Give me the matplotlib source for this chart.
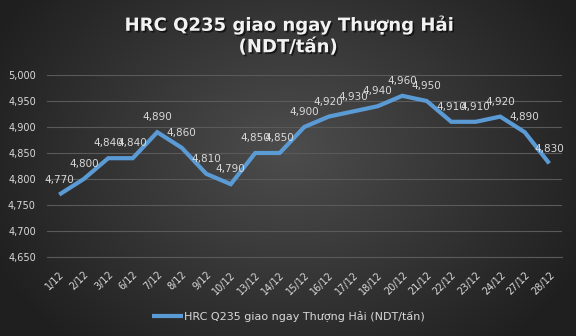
import numpy as np
import matplotlib
matplotlib.use("Agg")
import matplotlib.pyplot as plt
import matplotlib.patheffects as pe
from matplotlib.ticker import FuncFormatter, MultipleLocator
import matplotlib.transforms as mtransforms

dates = ["1/12", "2/12", "3/12", "6/12", "7/12", "8/12", "9/12", "10/12", "13/12", "14/12",
         "15/12", "16/12", "17/12", "18/12", "20/12", "21/12", "22/12", "23/12", "24/12", "27/12", "28/12"]
prices = [4770, 4800, 4840, 4840, 4890, 4860, 4810, 4790, 4850, 4850,
          4900, 4920, 4930, 4940, 4960, 4950, 4910, 4910, 4920, 4890, 4830]
series_name = "HRC Q235 giao ngay Thượng Hải (NDT/tấn)"
title = "HRC Q235 giao ngay Thượng Hải\n(NDT/tấn)"

fig = plt.figure(figsize=(5.76, 3.36), dpi=100)

# radial gradient background
bg = fig.add_axes([0, 0, 1, 1], zorder=0)
yy, xx = np.mgrid[0:336, 0:576]
r = np.sqrt(((xx - 288) / 330.0) ** 2 + ((yy - 150) / 260.0) ** 2)
r = np.clip(r, 0, 1)
c0 = np.array([0x4d, 0x4d, 0x4d]) / 255.0
c1 = np.array([0x1f, 0x1f, 0x1f]) / 255.0
img = c0[None, None, :] * (1 - r[..., None]) + c1[None, None, :] * r[..., None]
bg.imshow(img, aspect="auto", extent=[0, 1, 0, 1])
bg.axis("off")

ax = fig.add_axes([47 / 576, 1 - 257 / 336, (561.5 - 47) / 576, (257 - 75) / 336], zorder=1)
ax.patch.set_alpha(0)

x = np.arange(len(dates))
ax.plot(x, prices, color="#5b9bd5", lw=3, solid_capstyle="butt", solid_joinstyle="miter",
        label=series_name, zorder=3)
for xi, v in zip(x, prices):
    ax.annotate(f"{v:,}", (xi, v), xytext=(0, 7), textcoords="offset points",
                ha="center", va="bottom", color="#d9d9d9", fontsize=7.5, zorder=4)

ax.set_xlim(-0.5, len(dates) - 0.5)
ax.set_ylim(4650, 5000)
ax.yaxis.set_major_locator(MultipleLocator(50))
ax.yaxis.set_major_formatter(FuncFormatter(lambda v, p: f"{int(v):,}"))
ax.set_xticks(x)
ax.set_xticklabels(dates, rotation=45, ha="right", rotation_mode="anchor")
offset = mtransforms.ScaledTranslation(4 / 72, 0, fig.dpi_scale_trans)
for lbl in ax.get_xticklabels():
    lbl.set_transform(lbl.get_transform() + offset)
ax.tick_params(axis="both", length=0, colors="#d9d9d9", labelsize=7)
ax.tick_params(axis="x", pad=9)
ax.tick_params(axis="y", pad=8)
ax.grid(axis="y", color="#5a5a5a", lw=0.8)
ax.set_axisbelow(True)
for s in ["top", "right", "left"]:
    ax.spines[s].set_visible(False)
ax.spines["bottom"].set_color("#5a5a5a")
ax.spines["bottom"].set_linewidth(0.8)

fig.text(0.5, 1 - 36 / 336, title, ha="center", va="center", fontsize=13, fontweight="bold",
         color="#f2f2f2", linespacing=1.25,
         path_effects=[pe.withSimplePatchShadow(offset=(1.2, -1.2), shadow_rgbFace="black", alpha=0.6)])

leg = fig.legend(loc="center", bbox_to_anchor=(0.5, 1 - 316 / 336), frameon=False,
                 fontsize=8, handlelength=2.8, handletextpad=0.1)
for t in leg.get_texts():
    t.set_color("#d9d9d9")

fig.savefig("out.png", dpi=100)
